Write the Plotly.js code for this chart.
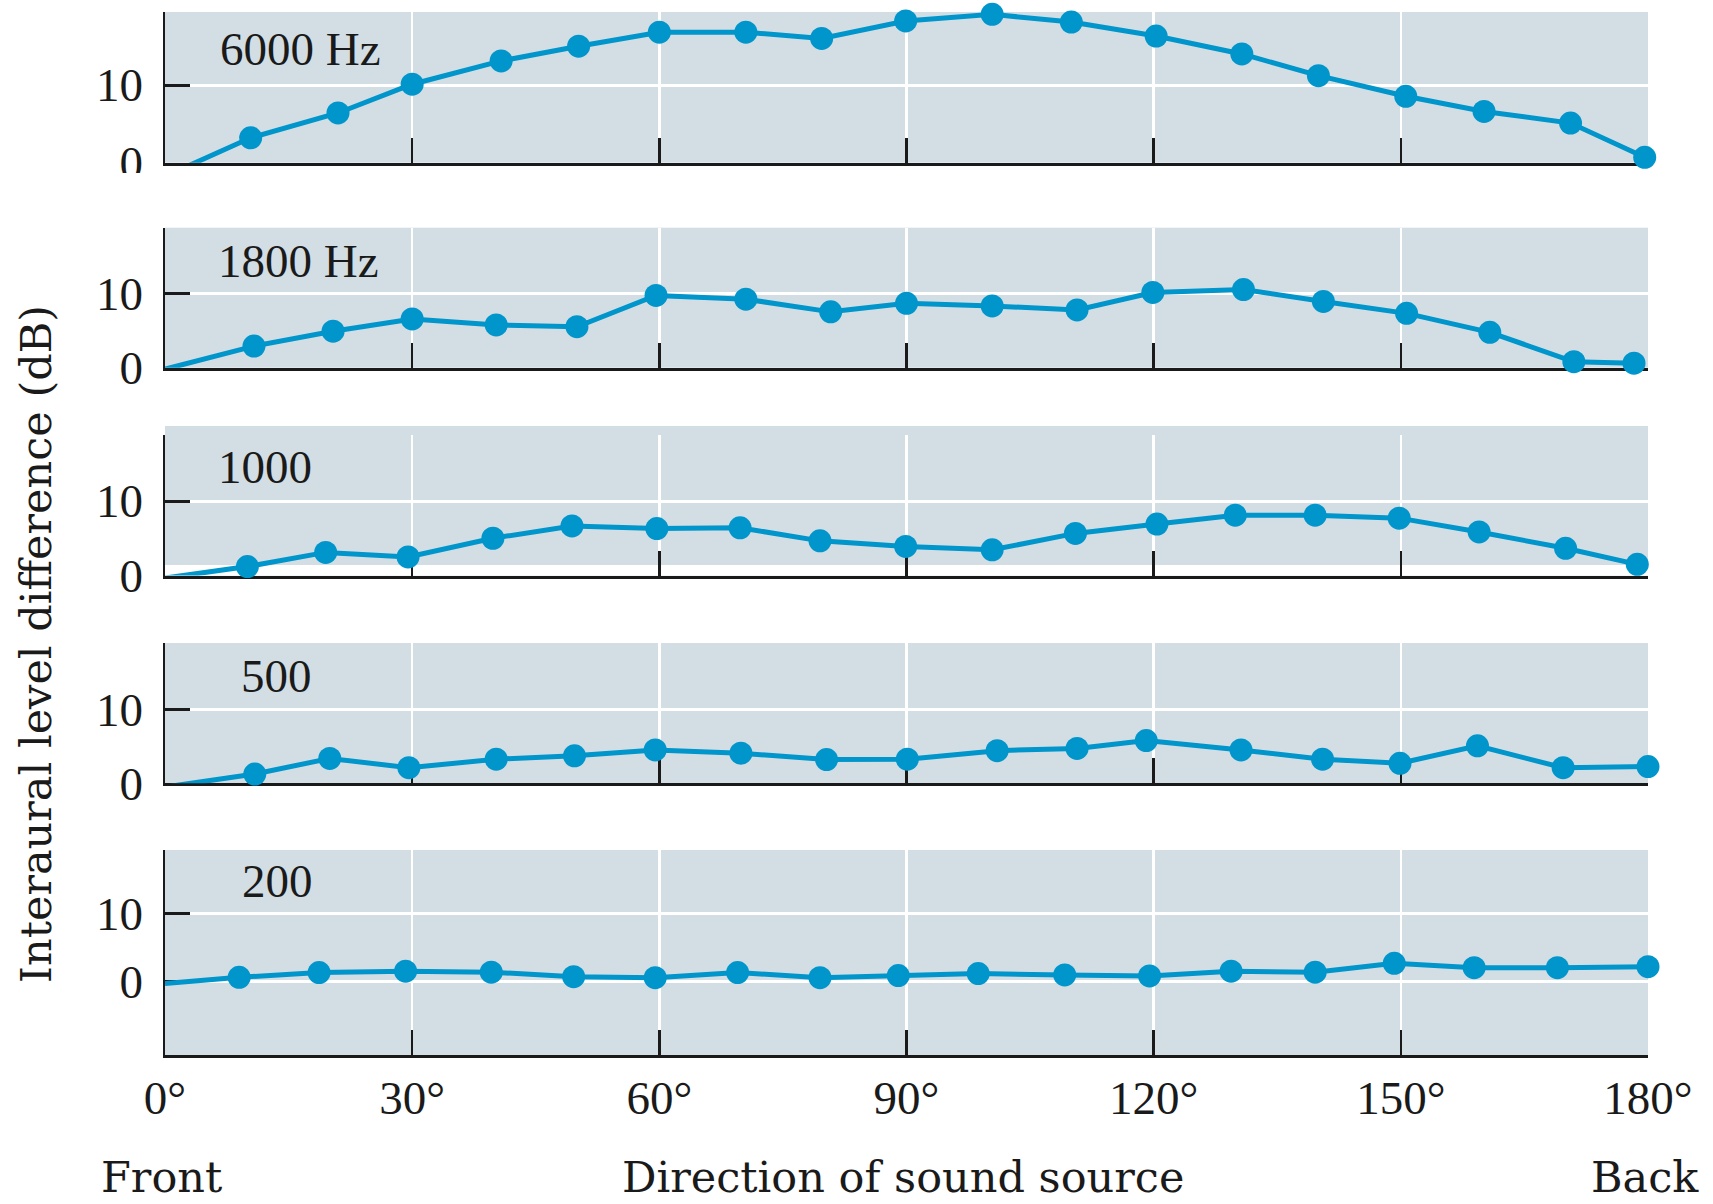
<!DOCTYPE html>
<html>
<head>
<meta charset="utf-8">
<script src="https://cdn.plot.ly/plotly-3.0.1.min.js"></script>
<style>
  html, body { margin: 0; padding: 0; background: #ffffff; }
  #chart { width: 1713px; height: 1204px; }
</style>
</head>
<body>
<div id="chart"></div>
<script>
// ---- Data ----
// Direction of sound source (degrees); first point of each series is the
// line's starting point at 0° (no marker drawn there).
const angles6000 = [0, 10.4, 21, 30, 40.8, 50.2, 60, 70.5, 79.7, 89.9, 100.4, 110, 120.3, 130.7, 140, 150.6, 160.1, 170.6, 179.6];
const ild6000    = [-1.75, 3.2, 6.4, 10.1, 13.1, 15.0, 16.8, 16.8, 16.0, 18.25, 19.1, 18.1, 16.3, 14.0, 11.2, 8.55, 6.6, 5.1, 0.7];

const angles1800 = [0, 10.8, 20.4, 30, 40.2, 50, 59.6, 70.5, 80.8, 90, 100.4, 110.7, 119.9, 130.9, 140.6, 150.7, 160.8, 171, 178.3];
const ild1800    = [-0.2, 2.9, 4.9, 6.55, 5.75, 5.5, 9.7, 9.2, 7.5, 8.65, 8.3, 7.75, 10.1, 10.5, 8.9, 7.3, 4.75, 0.8, 0.6];

const angles1000 = [0, 10, 19.5, 29.5, 39.8, 49.4, 59.7, 69.8, 79.5, 89.9, 100.4, 110.5, 120.4, 129.9, 139.6, 149.8, 159.5, 170, 178.7];
const ild1000    = [-0.35, 1.2, 3.1, 2.5, 5.0, 6.65, 6.3, 6.4, 4.65, 3.9, 3.45, 5.65, 6.9, 8.1, 8.1, 7.7, 5.85, 3.65, 1.5];

const angles500  = [0, 10.9, 20, 29.6, 40.2, 49.7, 59.5, 69.9, 80.3, 90.1, 101, 110.7, 119.1, 130.6, 140.5, 149.9, 159.3, 169.7, 180];
const ild500     = [-0.5, 1.25, 3.35, 2.1, 3.25, 3.7, 4.5, 4.05, 3.2, 3.25, 4.4, 4.7, 5.75, 4.5, 3.25, 2.7, 5.05, 2.1, 2.25];

const angles200  = [0, 9, 18.7, 29.2, 39.6, 49.6, 59.5, 69.5, 79.5, 89, 98.7, 109.2, 119.5, 129.4, 139.6, 149.2, 158.9, 169, 180];
const ild200     = [-0.25, 0.65, 1.35, 1.55, 1.4, 0.75, 0.6, 1.35, 0.6, 0.9, 1.2, 1.0, 0.85, 1.55, 1.4, 2.7, 2.05, 2.05, 2.2];

const panelLabels = ['6000 Hz', '1800 Hz', '1000', '500', '200'];

const xTickVals  = [0, 30, 60, 90, 120, 150, 180];
const xTickText  = ['0°', '30°', '60°', '90°', '120°', '150°', '180°'];
const yTickVals  = [0, 10];
const yTickText  = ['0', '10'];

const xTitle = 'Direction of sound source';
const yTitle = 'Interaural level difference (dB)';
const frontLabel = 'Front';
const backLabel = 'Back';

// ---- Styling / layout ----
const W = 1713, H = 1204;
const BG = '#d2dee4';
const LINE = '#0095cb';
const INK = '#1a1a1a';
const NUMFONT = 'Liberation Serif, Times New Roman, serif';
const TXTFONT = 'DejaVu Serif, serif';

const px = v => v / W;
const py = v => 1 - v / H;

const xDom = [px(165), px(1648)];
// panel pixel extents [top, bottom] and y ranges
const panels = [
  { x: angles6000, y: ild6000, top: 12.0,  bottom: 162.7,  range: [0, 19.4],     lab: [218, 49] },
  { x: angles1800, y: ild1800, top: 227.7, bottom: 367.7,  range: [0, 18.8],     lab: [216, 261] },
  { x: angles1000, y: ild1000, top: 435,   bottom: 575.5,  range: [0, 18.86],    lab: [216, 467.5] },
  { x: angles500,  y: ild500,  top: 643,   bottom: 783.3,  range: [0, 18.9],     lab: [239, 676] },
  { x: angles200,  y: ild200,  top: 850,   bottom: 1055,   range: [-10.7, 19.25], lab: [240, 881] }
];

const data = [];
const layout = {
  width: W, height: H,
  margin: { l: 0, r: 0, t: 0, b: 0, pad: 0 },
  paper_bgcolor: '#ffffff',
  plot_bgcolor: BG,
  showlegend: false,
  font: { family: NUMFONT, color: INK, size: 47 },
  annotations: [],
  shapes: []
};

panels.forEach((p, i) => {
  const n = i + 1;
  const xa = n === 1 ? 'x' : 'x' + n;
  const ya = n === 1 ? 'y' : 'y' + n;
  const xKey = n === 1 ? 'xaxis' : 'xaxis' + n;
  const yKey = n === 1 ? 'yaxis' : 'yaxis' + n;

  data.push({
    type: 'scatter',
    mode: 'lines+markers',
    x: p.x, y: p.y,
    xaxis: xa, yaxis: ya,
    cliponaxis: false,
    opacity: 1,
    line: { color: LINE, width: 5 },
    marker: { color: LINE, opacity: 1, size: p.x.map((v, k) => k === 0 ? 0 : 23), line: { width: 0 } },
    hoverinfo: 'x+y'
  });

  const isBottom = n === panels.length;
  layout[xKey] = {
    domain: xDom,
    anchor: ya,
    range: [0, 180],
    tickmode: 'array',
    tickvals: xTickVals,
    ticktext: xTickText,
    showticklabels: isBottom,
    ticks: 'inside',
    ticklen: 25,
    tickwidth: 2.5,
    tickcolor: INK,
    ticklabelstandoff: 0,
    tickfont: { family: NUMFONT, size: 47, color: INK },
    showgrid: true,
    gridcolor: '#ffffff',
    gridwidth: 2.5,
    zeroline: false,
    showline: true,
    linecolor: INK,
    linewidth: 3,
    layer: 'below traces',
    fixedrange: true
  };
  layout[yKey] = {
    domain: [py(p.bottom), py(p.top)],
    anchor: xa,
    range: p.range,
    tickmode: 'array',
    tickvals: yTickVals,
    ticktext: yTickText,
    ticks: 'inside',
    ticklen: 25,
    tickwidth: 3,
    tickcolor: INK,
    ticklabelstandoff: 10,
    tickfont: { family: NUMFONT, size: 47, color: INK },
    showgrid: true,
    gridcolor: '#ffffff',
    gridwidth: 3,
    zeroline: false,
    showline: true,
    linecolor: INK,
    linewidth: 2.5,
    layer: 'below traces',
    fixedrange: true
  };

  layout.annotations.push({
    xref: 'paper', yref: 'paper',
    x: px(p.lab[0]), y: py(p.lab[1]),
    xanchor: 'left', yanchor: 'middle',
    text: panelLabels[i], showarrow: false,
    font: { family: NUMFONT, size: 47, color: INK }
  });
});

// Axis titles and end labels
layout.annotations.push(
  { xref: 'paper', yref: 'paper', x: px(903), y: py(1177), xanchor: 'center', yanchor: 'middle',
    text: xTitle, showarrow: false, font: { family: TXTFONT, size: 43, color: INK } },
  { xref: 'paper', yref: 'paper', x: px(161), y: py(1177), xanchor: 'center', yanchor: 'middle',
    text: frontLabel, showarrow: false, font: { family: TXTFONT, size: 43, color: INK } },
  { xref: 'paper', yref: 'paper', x: px(1645), y: py(1177), xanchor: 'center', yanchor: 'middle',
    text: backLabel, showarrow: false, font: { family: TXTFONT, size: 43, color: INK } },
  { xref: 'paper', yref: 'paper', x: px(36), y: py(644), xanchor: 'center', yanchor: 'middle',
    textangle: -90, text: yTitle, showarrow: false, font: { family: TXTFONT, size: 43, color: INK } }
);

// Background quirks of the 1000 Hz panel and the clipped "0" of the top panel
layout.shapes.push(
  { type: 'rect', xref: 'paper', yref: 'paper', x0: xDom[0], x1: xDom[1], y0: py(435), y1: py(426),
    fillcolor: BG, line: { width: 0 }, layer: 'below' },
  { type: 'rect', xref: 'paper', yref: 'paper', x0: xDom[0], x1: xDom[1], y0: py(575.5), y1: py(565),
    fillcolor: '#ffffff', line: { width: 0 }, layer: 'below' },
  { type: 'rect', xref: 'paper', yref: 'paper', x0: px(80), x1: px(160), y0: py(195), y1: py(173),
    fillcolor: '#ffffff', line: { width: 0 }, layer: 'above' }
);

Plotly.newPlot('chart', data, layout, { displayModeBar: false, staticPlot: true });
</script>
</body>
</html>
